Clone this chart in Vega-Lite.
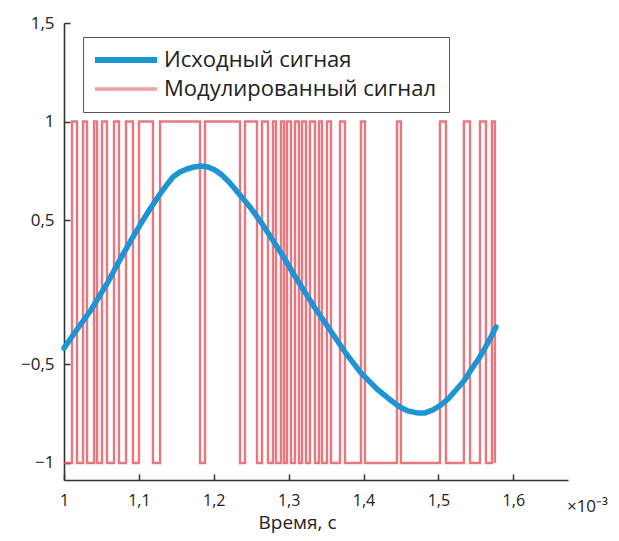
{
  "$schema": "https://vega.github.io/schema/vega-lite/v6.json",
  "width": 504,
  "height": 457,
  "autosize": "none",
  "padding": {"left": 64, "top": 23, "right": 51, "bottom": 61},
  "background": "white",
  "config": {"view": {"stroke": null}, "font": "Open Sans"},
  "title": {"text": "×10⁻³", "orient": "bottom", "anchor": "end", "frame": "group", "dx": 40, "dy": -37, "fontSize": 17, "fontWeight": "normal", "color": "#222", "font": "Open Sans"},
  "datasets": {
    "src": [
      {"t": 1.0, "v": -0.39, "series": "Исходный сигная"},
      {"t": 1.0187, "v": -0.25, "series": "Исходный сигная"},
      {"t": 1.036, "v": -0.125, "series": "Исходный сигная"},
      {"t": 1.0481, "v": -0.021, "series": "Исходный сигная"},
      {"t": 1.0587, "v": 0.069, "series": "Исходный сигная"},
      {"t": 1.0708, "v": 0.188, "series": "Исходный сигная"},
      {"t": 1.0814, "v": 0.285, "series": "Исходный сигная"},
      {"t": 1.0921, "v": 0.382, "series": "Исходный сигная"},
      {"t": 1.1015, "v": 0.465, "series": "Исходный сигная"},
      {"t": 1.1148, "v": 0.556, "series": "Исходный сигная"},
      {"t": 1.1255, "v": 0.617, "series": "Исходный сигная"},
      {"t": 1.1362, "v": 0.673, "series": "Исходный сигная"},
      {"t": 1.1455, "v": 0.718, "series": "Исходный сигная"},
      {"t": 1.1549, "v": 0.744, "series": "Исходный сигная"},
      {"t": 1.1642, "v": 0.759, "series": "Исходный сигная"},
      {"t": 1.1736, "v": 0.769, "series": "Исходный сигная"},
      {"t": 1.1829, "v": 0.774, "series": "Исходный сигная"},
      {"t": 1.1923, "v": 0.769, "series": "Исходный сигная"},
      {"t": 1.2016, "v": 0.754, "series": "Исходный сигная"},
      {"t": 1.2109, "v": 0.728, "series": "Исходный сигная"},
      {"t": 1.2216, "v": 0.688, "series": "Исходный сигная"},
      {"t": 1.235, "v": 0.627, "series": "Исходный сигная"},
      {"t": 1.2483, "v": 0.566, "series": "Исходный сигная"},
      {"t": 1.263, "v": 0.486, "series": "Исходный сигная"},
      {"t": 1.2777, "v": 0.368, "series": "Исходный сигная"},
      {"t": 1.2924, "v": 0.25, "series": "Исходный сигная"},
      {"t": 1.3057, "v": 0.132, "series": "Исходный сигная"},
      {"t": 1.3191, "v": 0.021, "series": "Исходный сигная"},
      {"t": 1.3351, "v": -0.111, "series": "Исходный сигная"},
      {"t": 1.3525, "v": -0.243, "series": "Исходный сигная"},
      {"t": 1.3752, "v": -0.417, "series": "Исходный сигная"},
      {"t": 1.3965, "v": -0.545, "series": "Исходный сигная"},
      {"t": 1.4192, "v": -0.631, "series": "Исходный сигная"},
      {"t": 1.4393, "v": -0.692, "series": "Исходный сигная"},
      {"t": 1.4486, "v": -0.717, "series": "Исходный сигная"},
      {"t": 1.4593, "v": -0.737, "series": "Исходный сигная"},
      {"t": 1.4713, "v": -0.747, "series": "Исходный сигная"},
      {"t": 1.482, "v": -0.747, "series": "Исходный сигная"},
      {"t": 1.4927, "v": -0.732, "series": "Исходный сигная"},
      {"t": 1.5033, "v": -0.707, "series": "Исходный сигная"},
      {"t": 1.514, "v": -0.672, "series": "Исходный сигная"},
      {"t": 1.5234, "v": -0.631, "series": "Исходный сигная"},
      {"t": 1.534, "v": -0.586, "series": "Исходный сигная"},
      {"t": 1.5434, "v": -0.53, "series": "Исходный сигная"},
      {"t": 1.5527, "v": -0.472, "series": "Исходный сигная"},
      {"t": 1.5607, "v": -0.403, "series": "Исходный сигная"},
      {"t": 1.5688, "v": -0.326, "series": "Исходный сигная"},
      {"t": 1.5768, "v": -0.243, "series": "Исходный сигная"}
    ],
    "mod": [
      {"t": 1.0, "v": -1, "series": "Модулированный сигнал"},
      {"t": 1.0107, "v": 1, "series": "Модулированный сигнал"},
      {"t": 1.0174, "v": -1, "series": "Модулированный сигнал"},
      {"t": 1.0254, "v": 1, "series": "Модулированный сигнал"},
      {"t": 1.0307, "v": -1, "series": "Модулированный сигнал"},
      {"t": 1.0401, "v": 1, "series": "Модулированный сигнал"},
      {"t": 1.0441, "v": -1, "series": "Модулированный сигнал"},
      {"t": 1.0507, "v": 1, "series": "Модулированный сигнал"},
      {"t": 1.0574, "v": -1, "series": "Модулированный сигнал"},
      {"t": 1.0668, "v": 1, "series": "Модулированный сигнал"},
      {"t": 1.0734, "v": -1, "series": "Модулированный сигнал"},
      {"t": 1.0828, "v": 1, "series": "Модулированный сигнал"},
      {"t": 1.0921, "v": -1, "series": "Модулированный сигнал"},
      {"t": 1.1001, "v": 1, "series": "Модулированный сигнал"},
      {"t": 1.1188, "v": -1, "series": "Модулированный сигнал"},
      {"t": 1.1282, "v": 1, "series": "Модулированный сигнал"},
      {"t": 1.1816, "v": -1, "series": "Модулированный сигнал"},
      {"t": 1.1883, "v": 1, "series": "Модулированный сигнал"},
      {"t": 1.235, "v": -1, "series": "Модулированный сигнал"},
      {"t": 1.2417, "v": 1, "series": "Модулированный сигнал"},
      {"t": 1.2577, "v": -1, "series": "Модулированный сигнал"},
      {"t": 1.2644, "v": 1, "series": "Модулированный сигнал"},
      {"t": 1.2724, "v": -1, "series": "Модулированный сигнал"},
      {"t": 1.279, "v": 1, "series": "Модулированный сигнал"},
      {"t": 1.283, "v": -1, "series": "Модулированный сигнал"},
      {"t": 1.2897, "v": 1, "series": "Модулированный сигнал"},
      {"t": 1.2937, "v": -1, "series": "Модулированный сигнал"},
      {"t": 1.2977, "v": 1, "series": "Модулированный сигнал"},
      {"t": 1.3031, "v": -1, "series": "Модулированный сигнал"},
      {"t": 1.3084, "v": 1, "series": "Модулированный сигнал"},
      {"t": 1.3137, "v": -1, "series": "Модулированный сигнал"},
      {"t": 1.3178, "v": 1, "series": "Модулированный сигнал"},
      {"t": 1.3231, "v": -1, "series": "Модулированный сигнал"},
      {"t": 1.3284, "v": 1, "series": "Модулированный сигнал"},
      {"t": 1.3351, "v": -1, "series": "Модулированный сигнал"},
      {"t": 1.3405, "v": 1, "series": "Модулированный сигнал"},
      {"t": 1.3445, "v": -1, "series": "Модулированный сигнал"},
      {"t": 1.3511, "v": 1, "series": "Модулированный сигнал"},
      {"t": 1.3565, "v": -1, "series": "Модулированный сигнал"},
      {"t": 1.3685, "v": 1, "series": "Модулированный сигнал"},
      {"t": 1.3752, "v": -1, "series": "Модулированный сигнал"},
      {"t": 1.3965, "v": 1, "series": "Модулированный сигнал"},
      {"t": 1.4019, "v": -1, "series": "Модулированный сигнал"},
      {"t": 1.4446, "v": 1, "series": "Модулированный сигнал"},
      {"t": 1.4499, "v": -1, "series": "Модулированный сигнал"},
      {"t": 1.502, "v": 1, "series": "Модулированный сигнал"},
      {"t": 1.51, "v": -1, "series": "Модулированный сигнал"},
      {"t": 1.534, "v": 1, "series": "Модулированный сигнал"},
      {"t": 1.5421, "v": -1, "series": "Модулированный сигнал"},
      {"t": 1.5554, "v": 1, "series": "Модулированный сигнал"},
      {"t": 1.5634, "v": -1, "series": "Модулированный сигнал"},
      {"t": 1.5714, "v": 1, "series": "Модулированный сигнал"},
      {"t": 1.5754, "v": -1, "series": "Модулированный сигнал"}
    ]
  },
  "encoding": {
    "x": {
      "field": "t", "type": "quantitative",
      "scale": {"domain": [1, 1.673], "nice": false, "zero": false},
      "axis": {
        "values": [1, 1.1, 1.2, 1.3, 1.4, 1.5, 1.6],
        "format": "~g",
        "labelExpr": "replace(datum.label, '.', ',')",
        "title": "Время, с",
        "titleFontSize": 19, "titleFontWeight": "normal", "titleColor": "#222", "titleFont": "Open Sans",
        "titleX": 233, "titleY": 48, "titleBaseline": "alphabetic", "titleAlign": "center", "titleAnchor": null,
        "grid": false,
        "domainColor": "#333", "domainWidth": 1.6,
        "tickColor": "#333", "tickWidth": 1.5, "tickSize": -6,
        "labelFontSize": 16, "labelColor": "#222", "labelPadding": 18, "labelFlush": false, "labelFont": "Open Sans"
      }
    },
    "y": {
      "field": "v", "type": "quantitative",
      "scale": {"type": "linear", "domain": [-1.086, -0.5, 0.5, 1.5], "range": [457, 341, 197, 0], "nice": false, "zero": false},
      "axis": {
        "values": [-1, -0.5, 0.5, 1, 1.5],
        "format": "~g",
        "labelExpr": "replace(datum.label, '.', ',')",
        "title": null,
        "grid": false,
        "domainColor": "#333", "domainWidth": 1.6,
        "tickColor": "#333", "tickWidth": 1.5, "tickSize": -6,
        "labelFontSize": 17, "labelColor": "#222", "labelPadding": 16, "labelFont": "Open Sans"
      }
    },
    "color": {
      "field": "series", "type": "nominal",
      "scale": {"domain": ["Исходный сигная", "Модулированный сигнал"], "range": ["#1b95d3", "#e5545e"]},
      "legend": {
        "orient": "none", "legendX": 19, "legendY": 14,
        "title": null,
        "symbolType": "stroke", "symbolSize": 3844, "symbolOffset": 20,
        "labelFontSize": 22, "labelFont": "Open Sans", "labelColor": "#222", "labelOffset": 27, "labelLimit": 500,
        "strokeColor": "#555", "fillColor": "white", "padding": 12, "rowPadding": 6,
        "encode": {
          "symbols": {"update": {
            "strokeWidth": {"signal": "datum.value === 'Исходный сигная' ? 6 : 3.5"},
            "opacity": {"signal": "datum.value === 'Исходный сигная' ? 1 : 0.55"}
          }}
        }
      }
    }
  },
  "layer": [
    {"data": {"name": "mod"}, "mark": {"type": "line", "interpolate": "step-after", "strokeWidth": 2.4, "opacity": 0.8}},
    {"data": {"name": "src"}, "mark": {"type": "line", "strokeWidth": 5.5, "strokeCap": "round", "strokeJoin": "round"}}
  ]
}
